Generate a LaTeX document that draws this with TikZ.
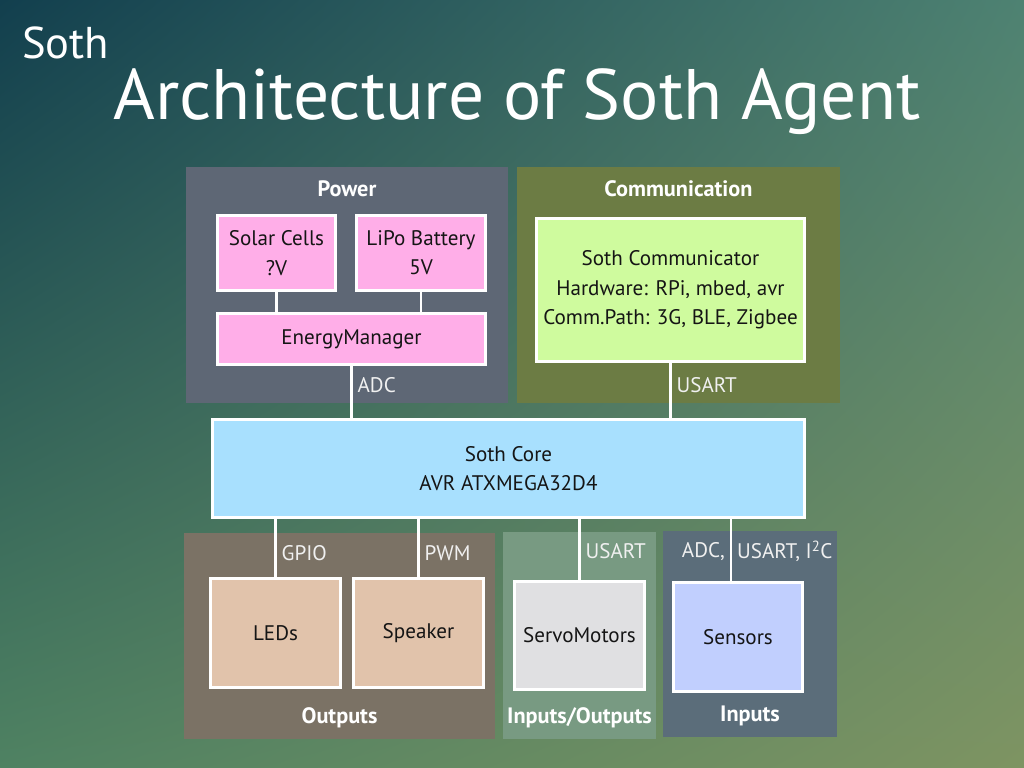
\documentclass[tikz,border=0pt]{standalone}
\usepackage{fontspec}
\setmainfont{PT Sans}
\usepackage{xcolor}
\usetikzlibrary{positioning,shadings}
\definecolor{ink}{HTML}{151515}
\definecolor{bgtl}{HTML}{123F4E}
\definecolor{bgtr}{HTML}{4E8272}
\definecolor{bgbl}{HTML}{4F8262}
\definecolor{bgbr}{HTML}{7E9462}
\definecolor{powerbg}{HTML}{5E6775}
\definecolor{commbg}{HTML}{6C7C44}
\definecolor{outbg}{HTML}{7B7265}
\definecolor{iobg}{HTML}{789A82}
\definecolor{inbg}{HTML}{5B6D7A}
\definecolor{pinkfill}{HTML}{FFAEE8}
\definecolor{limefill}{HTML}{CFFB9E}
\definecolor{skyfill}{HTML}{A8E0FE}
\definecolor{tanfill}{HTML}{E1C3AB}
\definecolor{greyfill}{HTML}{E0E0E2}
\definecolor{bluefill}{HTML}{C1CFFE}
\newcommand{\pxu}{0.03cm}
\tikzset{
  group/.style={draw=none, inner sep=0pt},
  unit/.style={
    draw=white, line width=2.5pt, inner sep=0pt, align=center,
    font=\fontsize{18}{25}\selectfont\color{ink}},
  wire/.style={draw=white, line width=2.5pt},
  grouptitle/.style={font=\fontsize{19}{22}\selectfont\bfseries\color{white}},
  bus/.style={font=\fontsize{18}{20}\selectfont\color{white!94!black}, inner sep=1pt},
  headline/.style={text=white, inner sep=0pt, anchor=base west},
}

\begin{document}
\begin{tikzpicture}[x=0.03cm, y=-0.03cm]
  \shade[upper left=bgtl, upper right=bgtr, lower left=bgbl, lower right=bgbr]
    (0,0) rectangle (1024,768);
  \useasboundingbox (0,0) rectangle (1024,768);

  \node[headline, font=\fontsize{38}{42}\selectfont] (chapter) at (22,59) {Soth};
  \node[headline, font=\fontsize{61}{66}\selectfont] (title) at (113,120) {Architecture of Soth Agent};

  \node[group, fill=powerbg, minimum width=322*\pxu, minimum height=236*\pxu] (power) at (347,285) {};
  \node[group, fill=commbg, minimum width=323*\pxu, minimum height=236*\pxu] (comm) at (678.5,285) {};
  \node[group, fill=outbg, minimum width=311*\pxu, minimum height=206*\pxu] (outputs) at (339.5,636) {};
  \node[group, fill=iobg, minimum width=153*\pxu, minimum height=207*\pxu] (inout) at (579.5,635.5) {};
  \node[group, fill=inbg, minimum width=174*\pxu, minimum height=206*\pxu] (inputs) at (750,634) {};

  \node[grouptitle, below=8pt of power.north] (powertitle) {Power};
  \node[grouptitle, below=8pt of comm.north] (commtitle) {Communication};
  \node[grouptitle, above=6pt of outputs.south] (outtitle) {Outputs};
  \node[grouptitle, above=6pt of inout.south] (iotitle) {Inputs/Outputs};
  \node[grouptitle, above=6pt of inputs.south] (intitle) {Inputs};

  \node[unit, fill=pinkfill, minimum width=118*\pxu, minimum height=75*\pxu] (solar) at (276.5,253) {Solar Cells\\?V};
  \node[unit, fill=pinkfill, minimum width=129*\pxu, minimum height=75*\pxu] (lipo) at (421,253) {LiPo Battery\\5V};
  \node[unit, fill=pinkfill, minimum width=268*\pxu, minimum height=51*\pxu] (energy) at (351.5,339) {EnergyManager};
  \node[unit, fill=limefill, minimum width=268*\pxu, minimum height=143*\pxu] (communicator) at (670.5,290)
    {Soth Communicator\\Hardware: RPi, mbed, avr\\Comm.Path: 3G, BLE, Zigbee};
  \node[unit, fill=skyfill, minimum width=592*\pxu, minimum height=98*\pxu] (core) at (508.5,468.5)
    {Soth Core\\AVR ATXMEGA32D4};
  \node[unit, fill=tanfill, minimum width=130*\pxu, minimum height=109*\pxu] (leds) at (275.5,633) {LEDs};
  \node[unit, fill=tanfill, minimum width=130*\pxu, minimum height=109*\pxu] (speaker) at (418.5,633) {Speaker};
  \node[unit, fill=greyfill, minimum width=130*\pxu, minimum height=108*\pxu] (servo) at (579.5,635.5) {ServoMotors};
  \node[unit, fill=bluefill, minimum width=129*\pxu, minimum height=109*\pxu] (sensors) at (738,637) {Sensors};

  \draw[wire] (solar.south) -- (solar.south |- energy.north);
  \draw[wire] (lipo.south) -- (lipo.south |- energy.north);
  \draw[wire] (energy.south) -- (energy.south |- core.north) node[bus, pos=0.37, right=3pt] {ADC};
  \draw[wire] (communicator.south) -- (communicator.south |- core.north) node[bus, pos=0.4, right=3pt] {USART};
  \draw[wire] (leds.north) -- (leds.north |- core.south) node[bus, pos=0.41, right=3pt] {GPIO};
  \draw[wire] (speaker.north) -- (speaker.north |- core.south) node[bus, pos=0.41, right=3pt] {PWM};
  \draw[wire] (servo.north) -- (servo.north |- core.south) node[bus, pos=0.48, right=3pt] {USART};
  \draw[wire] ([xshift=-7*\pxu]sensors.north) -- ([xshift=-7*\pxu]sensors.north |- core.south)
    node[bus, pos=0.48, left=3pt] {ADC,} node[bus, pos=0.48, right=3pt] {USART, I\textsuperscript{2}C};
\end{tikzpicture}
\end{document}
